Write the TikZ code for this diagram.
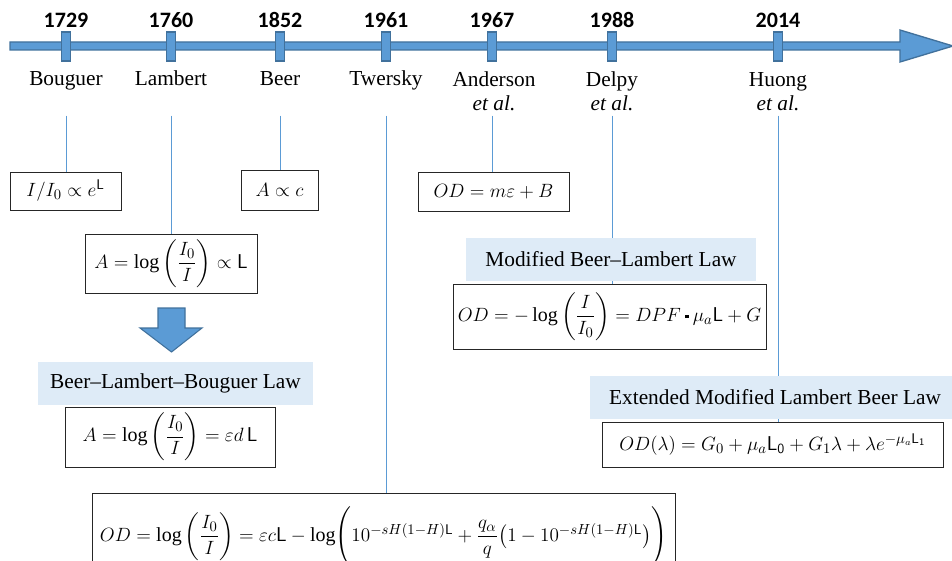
\documentclass[tikz,border=0pt]{standalone}
\usepackage{amsmath,amssymb}
\usepackage{fontspec}
\setmainfont{Liberation Serif}
\newfontfamily\yearfont{Carlito}
\usetikzlibrary{positioning,backgrounds}
\definecolor{axisblue}{RGB}{91,155,213}
\definecolor{axisedge}{RGB}{65,113,156}
\definecolor{bandblue}{RGB}{222,235,247}
\newcommand{\Lsf}{\mathsf{L}}
\newcommand{\sqdot}{\mathbin{\vcenter{\hbox{\rule{2.6pt}{2.6pt}}}}}

\begin{document}
\begin{tikzpicture}[x=0.75pt,y=-0.75pt,
  tick/.style={draw=axisedge,fill=axisblue,line width=1pt,minimum width=6.75pt,minimum height=21.75pt,inner sep=0pt},
  year/.style={font=\yearfont\bfseries\fontsize{16.5}{18}\selectfont,inner sep=0pt},
  who/.style={font=\rmfamily\fontsize{16}{18}\selectfont,anchor=base,inner sep=2pt},
  eqbox/.style={draw=black!85,line width=0.7pt,fill=white,inner sep=0pt,font=\fontsize{15}{18}\selectfont},
  lawband/.style={fill=bandblue,inner sep=0pt,font=\rmfamily\fontsize{16}{18}\selectfont},
  link/.style={axisblue,line width=0.6pt,shorten <=40.5pt}]
 \useasboundingbox (0,0) rectangle (952,560);
 % time axis
 \draw[axisedge,fill=axisblue,line width=1pt] (10,42) -- (900,42) -- (900,30) -- (953,46)
   -- (900,62) -- (900,50) -- (10,50) -- cycle;
 \foreach \x/\yr/\id in {66/1729/bou,171/1760/lam,280/1852/beer,386/1961/twe,
                         492/1967/and,612/1988/del,778/2014/huo}{
   \node[tick] (t\id) at (\x,46.5) {};
   \node[year] (y\id) at (\x,20) {\yr};
 }
 % names
 \node[who] (nbou) at (66,85) {Bouguer};
 \node[who] (nlam) at (171,85) {Lambert};
 \node[who] (nbeer) at (280,85) {Beer};
 \node[who] (ntwe) at (386,85) {Twersky};
 \node[who] (nand) at (494,86) {Anderson};
 \node[who] (eand) at (494,110) {\textit{et al.}};
 \node[who] (ndel) at (612,86) {Delpy};
 \node[who] (edel) at (612,110) {\textit{et al.}};
 \node[who] (nhuo) at (778,86) {Huong};
 \node[who] (ehuo) at (778,110) {\textit{et al.}};
 % formulas
 \node[eqbox,minimum width=83.25pt,minimum height=28.5pt] (qbou) at (65.5,191)
   {$I/I_0\propto e^{\Lsf}$};
 \node[eqbox,minimum width=57.75pt,minimum height=30pt] (qbeer) at (279.5,190)
   {$A\propto c$};
 \node[eqbox,minimum width=129pt,minimum height=44.25pt] (qlam) at (171,263.5)
   {$A=\log\left(\dfrac{I_0}{I}\right)\propto\Lsf$};
 \node[eqbox,minimum width=113.25pt,minimum height=29.25pt] (qand) at (493.5,191.5)
   {$OD=m\varepsilon+B$};
 \node[lawband,minimum width=206.25pt,minimum height=32.25pt] (lblb) at (175.5,383.5)
   {Beer--Lambert--Bouguer Law};
 \node[eqbox,minimum width=157.5pt,minimum height=45pt] (qblb) at (170,437)
   {$A=\log\left(\dfrac{I_0}{I}\right)=\varepsilon d\,\Lsf$};
 \node[lawband,minimum width=217.5pt,minimum height=32.25pt] (lmbl) at (611,259.5)
   {Modified Beer--Lambert Law};
 \node[eqbox,minimum width=234.75pt,minimum height=48.75pt] (qdel) at (609.5,316.5)
   {$OD=-\log\left(\dfrac{I}{I_0}\right)=DPF\sqdot\mu_a\Lsf+G$};
 \node[lawband,minimum width=277.5pt,minimum height=32.25pt] (lemb) at (775,397.5)
   {Extended Modified Lambert Beer Law};
 \node[eqbox,minimum width=255.75pt,minimum height=33.75pt] (qhuo) at (772.5,444.5)
   {$OD(\lambda)=G_0+\mu_a\Lsf_{\mathsf{0}}+G_1\lambda+\lambda e^{-\mu_a\Lsf_{\mathsf{1}}}$};
 \node[eqbox,minimum width=437.25pt,minimum height=65.25pt] (qtwe) at (383.5,536.5)
   {$OD=\log\left(\dfrac{I_0}{I}\right)=\varepsilon c\Lsf-\log\Biggl(10^{-sH(1-H)\Lsf}
    +\dfrac{q_\alpha}{q}\bigl(1-10^{-sH(1-H)\Lsf}\bigr)\Biggr)$};
 % arrow to the combined law
 \draw[axisedge,fill=axisblue,line width=0.8pt] (158,308) -- (185,308) -- (185,328)
   -- (202,328) -- (171.5,352) -- (140,328) -- (158,328) -- cycle;
 % links from the axis
 \begin{scope}[on background layer]
  \draw[link] (tbou.south) -- (tbou.south |- qbou.north);
  \draw[link] (tlam.south) -- (tlam.south |- qlam.north);
  \draw[link] (tbeer.south) -- (tbeer.south |- qbeer.north);
  \draw[link] (ttwe.south) -- (ttwe.south |- qtwe.north);
  \draw[link] (tand.south) -- (tand.south |- qand.north);
  \draw[link] (tdel.south) -- (tdel.south |- qdel.north);
  \draw[link] (thuo.south) -- (thuo.south |- qhuo.north);
 \end{scope}
\end{tikzpicture}
\end{document}
